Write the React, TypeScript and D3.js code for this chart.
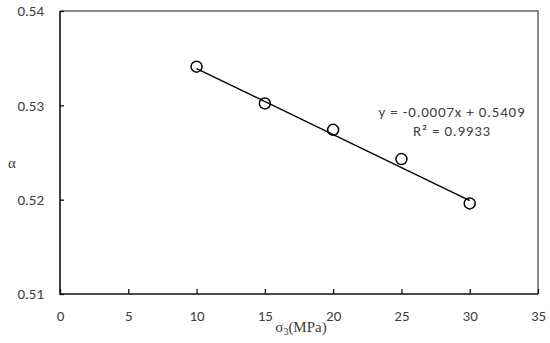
import React, { useEffect, useRef } from "react";
import * as d3 from "d3";

const sigma3 = [10, 15, 20, 25, 30];
const alpha = [0.5341, 0.5302, 0.5274, 0.5243, 0.5196];
const xTicks = [0, 5, 10, 15, 20, 25, 30, 35];
const yTicks = [0.51, 0.52, 0.53, 0.54];
const slope = -0.0007;
const intercept = 0.5409;
const fitLabel = "y = -0.0007x + 0.5409";
const r2Label = "R² = 0.9933";

export default function App() {
    const ref = useRef<SVGSVGElement>(null);

    useEffect(() => {
        const width = 550;
        const height = 343;
        const margin = { top: 11, right: 12, bottom: 49, left: 60 };
        const innerWidth = width - margin.left - margin.right;
        const innerHeight = height - margin.top - margin.bottom;

        const svg = d3.select(ref.current);
        svg.selectAll("*").remove();
        svg.append("rect").attr("width", width).attr("height", height).attr("fill", "#fff");

        const g = svg.append("g").attr("transform", `translate(${margin.left},${margin.top})`);

        const x = d3.scaleLinear().domain([0, 35]).range([0, innerWidth]);
        const y = d3.scaleLinear().domain([0.51, 0.54]).range([innerHeight, 0]);

        const tickFont = "Carlito, 'Open Sans', 'Liberation Sans', sans-serif";
        const textColor = "#404040";

        // frame: top/right lighter, left/bottom dark
        g.append("path")
            .attr("d", `M0,0H${innerWidth}V${innerHeight}`)
            .attr("fill", "none")
            .attr("stroke", "#666")
            .attr("stroke-width", 1.5);
        g.append("path")
            .attr("d", `M0,0V${innerHeight}H${innerWidth}`)
            .attr("fill", "none")
            .attr("stroke", "#111")
            .attr("stroke-width", 1.6);

        // axes
        const xAxis = g.append("g")
            .attr("transform", `translate(0,${innerHeight})`)
            .call(d3.axisBottom(x).tickValues(xTicks).tickSize(-5).tickPadding(16).tickFormat(d3.format("d")));
        xAxis.select(".domain").remove();
        xAxis.selectAll("line").attr("stroke", "#111").attr("stroke-width", 1.3);
        xAxis.selectAll("text").attr("font-family", tickFont).attr("font-size", 15).attr("fill", textColor);

        const yAxis = g.append("g")
            .call(d3.axisLeft(y).tickValues(yTicks).tickSize(-4).tickPadding(16).tickFormat(d3.format(".2f")));
        yAxis.select(".domain").remove();
        yAxis.selectAll("line").attr("stroke", "#111").attr("stroke-width", 1.3);
        yAxis.selectAll("text").attr("font-family", tickFont).attr("font-size", 15).attr("fill", textColor);

        // trend line
        const x0 = d3.min(sigma3) as number;
        const x1 = d3.max(sigma3) as number;
        g.append("line")
            .attr("x1", x(x0))
            .attr("y1", y(slope * x0 + intercept))
            .attr("x2", x(x1))
            .attr("y2", y(slope * x1 + intercept))
            .attr("stroke", "#000")
            .attr("stroke-width", 1.4);

        // points
        g.selectAll("circle")
            .data(sigma3)
            .join("circle")
            .attr("cx", (d) => x(d))
            .attr("cy", (d, i) => y(alpha[i]))
            .attr("r", 5.5)
            .attr("fill", "none")
            .attr("stroke", "#000")
            .attr("stroke-width", 1.5);

        // equation
        const eqX = 452 - margin.left;
        g.append("text")
            .attr("x", eqX)
            .attr("y", 116.5 - margin.top)
            .attr("text-anchor", "middle")
            .attr("font-family", tickFont)
            .attr("font-size", 15)
            .attr("letter-spacing", 0.8)
            .attr("fill", textColor)
            .text(fitLabel);
        g.append("text")
            .attr("x", eqX)
            .attr("y", 135.5 - margin.top)
            .attr("text-anchor", "middle")
            .attr("font-family", tickFont)
            .attr("font-size", 15)
            .attr("letter-spacing", 0.8)
            .attr("fill", textColor)
            .text(r2Label);

        // titles
        const xt = svg.append("text")
            .attr("x", margin.left + innerWidth / 2 + 2)
            .attr("y", 332)
            .attr("text-anchor", "middle")
            .attr("font-family", "'Liberation Serif', serif")
            .attr("font-size", 15)
            .attr("fill", textColor);
        xt.append("tspan").text("σ");
        xt.append("tspan").attr("font-size", 10).attr("dy", 3).text("3");
        xt.append("tspan").attr("dy", -3).text("(MPa)");

        svg.append("text")
            .attr("x", 8)
            .attr("y", 168)
            .attr("font-family", "'Liberation Serif', serif")
            .attr("font-size", 15)
            .attr("fill", textColor)
            .text("α");
    }, []);

    return (
        <svg
            ref={ref}
            width={550}
            height={343}
            style={{ position: "absolute", left: 0, top: 0 }}
        />
    );
}
